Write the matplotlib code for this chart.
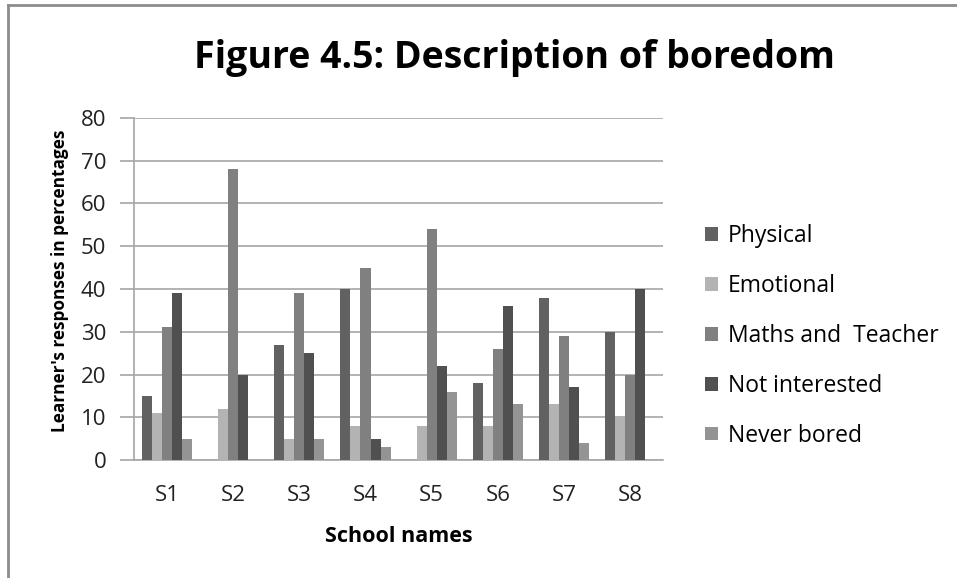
import matplotlib
matplotlib.use('Agg')
import matplotlib.pyplot as plt
from matplotlib.lines import Line2D
from matplotlib.patches import Patch
import numpy as np

plt.rcParams['font.family'] = ['Open Sans', 'DejaVu Sans']

schools = ['S1', 'S2', 'S3', 'S4', 'S5', 'S6', 'S7', 'S8']
physical = [15, 0, 27, 40, 0, 18, 38, 30]
emotional = [11, 12, 5, 8, 8, 8, 13, 10]
maths_teacher = [31, 68, 39, 45, 54, 26, 29, 20]
not_interested = [39, 20, 25, 5, 22, 36, 17, 40]
never_bored = [5, 0, 5, 3, 16, 13, 4, 0]

series = [('Physical', physical, '#616161'),
          ('Emotional', emotional, '#b3b3b3'),
          ('Maths and  Teacher', maths_teacher, '#808080'),
          ('Not interested', not_interested, '#505050'),
          ('Never bored', never_bored, '#949494')]

fig = plt.figure(figsize=(9.57, 5.78), dpi=100)
ax = fig.add_axes([0.140, 0.204, 0.553, 0.592])

x = np.arange(len(schools))
w = 0.152
for i, (name, vals, col) in enumerate(series):
    ax.bar(x + (i - 2) * w, vals, w, color=col, label=name, zorder=3)

ax.set_xlim(-0.5, len(schools) - 0.5)
ax.set_ylim(0, 80)
ax.set_yticks(range(0, 81, 10))
ax.yaxis.grid(True, color='#a6a6a6', linewidth=1.2, zorder=0)
ax.set_xticks(x)
ax.set_xticklabels(schools)
ax.tick_params(axis='x', length=0, pad=18, labelsize=16, colors='#222222')
ax.tick_params(axis='y', length=10, width=1.2, color='#a6a6a6', pad=10, labelsize=16, colors='#222222')
for s in ['top', 'right']:
    ax.spines[s].set_visible(False)
ax.spines['left'].set_color('#a6a6a6')
ax.spines['bottom'].set_color('#a6a6a6')
ax.spines['left'].set_linewidth(1.2)
ax.spines['bottom'].set_linewidth(1.2)

ax.set_ylabel("Learner's responses in percentages", fontsize=12.4, fontweight='bold')
ax.yaxis.set_label_coords(-0.122, 0.525)
ax.set_xlabel('School names', fontsize=15.5, fontweight='bold', labelpad=14)

fig.text(0.538, 0.90, 'Figure 4.5: Description of boredom', ha='center', va='center',
         fontsize=27, fontweight='bold')

handles = [Patch(facecolor=c, edgecolor='none') for _, _, c in series]
labels = [n for n, _, _ in series]
fig.legend(handles, labels, loc='center left', bbox_to_anchor=(0.737, 0.419),
           frameon=False, fontsize=16.5, handlelength=0.55, handleheight=0.55,
           handletextpad=0.45, labelspacing=1.13, borderaxespad=0, borderpad=0)

# outer chart border (top and left visible)
fig.add_artist(Line2D([0.008, 0.008], [0, 0.992], transform=fig.transFigure, color='#8c8c8c', linewidth=2))
fig.add_artist(Line2D([0.008, 1.0], [0.992, 0.992], transform=fig.transFigure, color='#8c8c8c', linewidth=2))

fig.savefig('out.png', dpi=100)
